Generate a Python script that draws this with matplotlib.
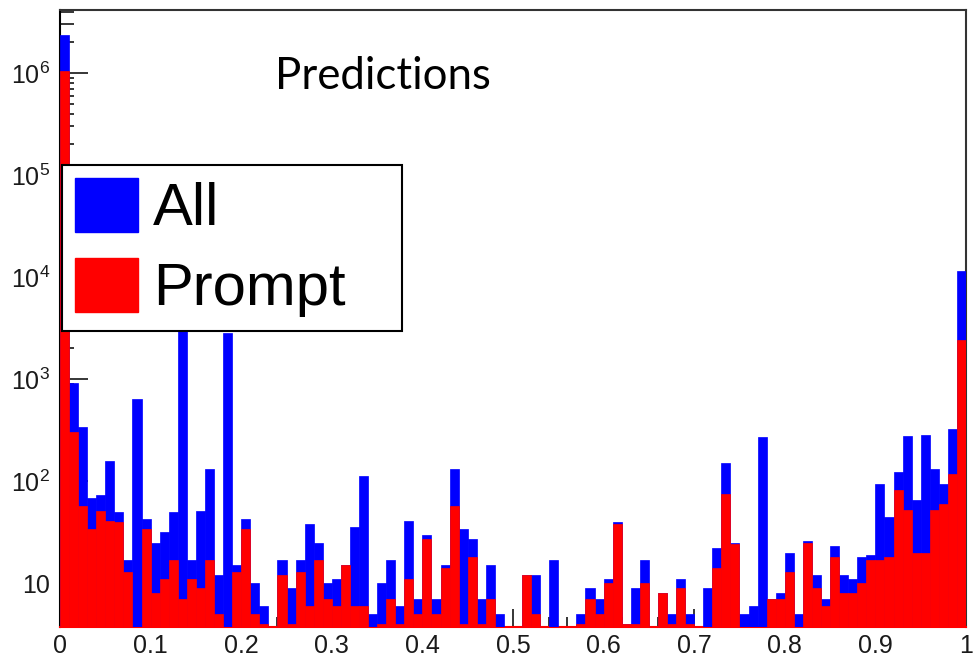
import numpy as np
import matplotlib
matplotlib.use('Agg')
import matplotlib.pyplot as plt
from matplotlib.patches import Patch
from matplotlib.ticker import LogLocator, MultipleLocator, NullFormatter

# 100 bins from 0 to 1
bin_edges = np.linspace(0, 1, 101)

# counts, one per bin
all_counts = [2370000, 920, 341, 68, 74, 158, 50, 17, 637, 43,
              25, 32, 50, 2980, 17, 51, 132, 12, 2845, 15,
              43, 10, 6, 0, 17, 9, 17, 38, 25, 10,
              11, 15, 36, 112, 5, 10, 17, 6, 41, 7,
              30, 7, 15, 133, 34, 27, 7, 15, 5, 0,
              0, 12, 12, 0, 17, 0, 0, 5, 9, 7,
              11, 40, 4, 9, 17, 0, 8, 5, 11, 5,
              0, 9, 22, 152, 25, 5, 6, 272, 7, 8,
              20, 5, 26, 12, 7, 23, 12, 11, 18, 19,
              94, 45, 122, 276, 65, 287, 133, 94, 328, 11500]

prompt_counts = [1050000, 305, 57, 34, 51, 41, 40, 13, 0, 34,
                 8, 11, 17, 7, 11, 9, 17, 5, 0, 13,
                 34, 5, 4, 0, 12, 4, 13, 6, 17, 7,
                 6, 15, 6, 6, 0, 4, 7, 4, 11, 5,
                 27, 5, 14, 57, 4, 18, 4, 7, 0, 0,
                 0, 12, 5, 0, 0, 0, 0, 4, 7, 5,
                 10, 38, 4, 4, 10, 0, 8, 4, 9, 4,
                 0, 0, 14, 75, 24, 0, 0, 0, 7, 7,
                 13, 0, 25, 9, 6, 18, 8, 8, 10, 17,
                 17, 18, 82, 52, 20, 20, 52, 60, 117, 2410]

x_tick_values = [0, 0.1, 0.2, 0.3, 0.4, 0.5, 0.6, 0.7, 0.8, 0.9, 1]
x_tick_labels = ['0', '0.1', '0.2', '0.3', '0.4', '0.5', '0.6', '0.7', '0.8', '0.9', '1']
y_tick_values = [10, 1e2, 1e3, 1e4, 1e5, 1e6]
y_tick_labels = ['10', r'$10^{2}$', r'$10^{3}$', r'$10^{4}$', r'$10^{5}$', r'$10^{6}$']

plt.rcParams['font.family'] = ['Liberation Sans', 'DejaVu Sans']
plt.rcParams['mathtext.fontset'] = 'custom'
plt.rcParams['mathtext.rm'] = 'Liberation Sans'
plt.rcParams['mathtext.it'] = 'Liberation Sans'

fig = plt.figure(figsize=(9.73, 6.56), dpi=100)
ax = fig.add_axes([60 / 973, 1 - 627 / 656, 906 / 973, 617 / 656])

width = bin_edges[1] - bin_edges[0]
left = bin_edges[:-1]
# All first, Prompt drawn on top
ax.bar(left, all_counts, width=width, align='edge', color='#0000ff',
       edgecolor='#0000ff', linewidth=0.5, log=True, zorder=1)
ax.bar(left, prompt_counts, width=width, align='edge', color='#ff0000',
       edgecolor='#ff0000', linewidth=0.5, log=True, zorder=1.1)

ax.set_xlim(0, 1)
ax.set_ylim(3.73, 4.15e6)

ax.set_xticks(x_tick_values)
ax.set_xticklabels(x_tick_labels)
ax.xaxis.set_minor_locator(MultipleLocator(0.02))
ax.set_yticks(y_tick_values)
ax.set_yticklabels(y_tick_labels)
ax.yaxis.set_minor_locator(LogLocator(base=10, subs=np.arange(2, 10)))
ax.yaxis.set_minor_formatter(NullFormatter())

ax.tick_params(axis='both', which='both', direction='in', top=False, right=False,
               width=1.1, colors='black', labelcolor='#1a1a1a')
ax.tick_params(axis='y', which='major', length=20, pad=7, labelsize=18)
ax.tick_params(axis='y', which='minor', length=10)
ax.tick_params(axis='x', which='major', length=13, pad=5, labelsize=18)
ax.tick_params(axis='x', which='minor', length=7)
ax.set_axisbelow(True)

for s in ['left', 'right', 'top', 'bottom']:
    ax.spines[s].set_linewidth(1.5)
    ax.spines[s].set_zorder(0.6)
ax.spines['top'].set_color('#333333')
ax.spines['right'].set_color('#333333')
ax.spines['bottom'].set_color('#ff0000')

handles = [Patch(facecolor='#0000ff', edgecolor='#0000ff', label='All'),
           Patch(facecolor='#ff0000', edgecolor='#ff0000', label='Prompt')]
leg = ax.legend(handles=handles, loc='upper left',
                bbox_to_anchor=(62 / 973, 1 - 328 / 656, 340 / 973, 163 / 656),
                bbox_transform=fig.transFigure, mode='expand', borderaxespad=0,
                fontsize=43, handlelength=1.05, handleheight=1.0,
                handletextpad=0.25, labelspacing=0.35, borderpad=0.22,
                fancybox=False, framealpha=1, edgecolor='black')
leg.get_frame().set_linewidth(1.5)

fig.text(275 / 973, 1 - 89 / 656, 'Predictions', family=['Lato', 'DejaVu Sans'],
         fontsize=31.5, va='baseline', ha='left', color='black')

fig.savefig('out.png', dpi=100)
